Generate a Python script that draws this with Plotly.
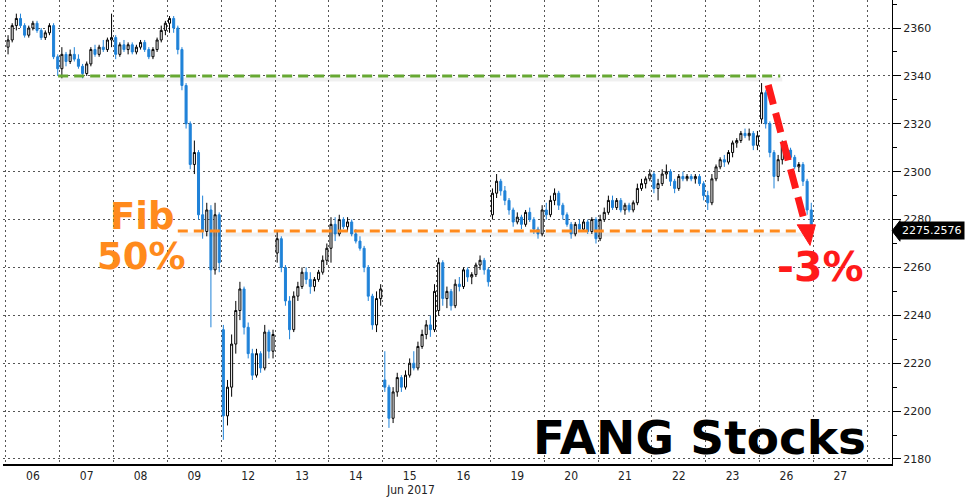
import plotly.graph_objects as go

# FANG index, intraday candles (13 bars per trading day), Jun 2017
days = ["06", "07", "08", "09", "12", "13", "14", "15", "16", "19", "20", "21", "22", "23", "26", "27"]
bars_per_day = 13

opens = [
    2352, 2355, 2361, 2364, 2361, 2357, 2360, 2362, 2359, 2356, 2358, 2361, 2348,  # 06
    2343, 2349, 2346, 2349, 2347, 2344, 2341, 2345, 2351, 2349, 2352, 2351, 2355,  # 07
    2356, 2349, 2353, 2351, 2353, 2350, 2352, 2354, 2351, 2348, 2351, 2355, 2359,  # 08
    2362, 2364, 2360, 2351, 2336, 2320, 2303, 2308, 2282, 2275, 2284, 2259, 2282,  # 09
    2234, 2198, 2210, 2228, 2242, 2251, 2235, 2224, 2215, 2224, 2218, 2233, 2225,  # 12
    2266, 2272, 2260, 2246, 2234, 2248, 2252, 2258, 2255, 2252, 2255, 2258, 2263,  # 13
    2268, 2278, 2274, 2280, 2277, 2279, 2274, 2271, 2268, 2260, 2248, 2236, 2247,  # 14
    2213, 2210, 2197, 2208, 2214, 2210, 2215, 2220, 2218, 2227, 2232, 2236, 2234,  # 15
    2242, 2262, 2247, 2250, 2244, 2253, 2252, 2259, 2256, 2257, 2261, 2263, 2259,  # 16
    2282, 2291, 2296, 2292, 2288, 2284, 2279, 2281, 2278, 2283, 2280, 2276, 2274,  # 19
    2284, 2282, 2288, 2291, 2286, 2282, 2278, 2274, 2278, 2276, 2279, 2275, 2280,  # 20
    2272, 2280, 2283, 2288, 2285, 2288, 2284, 2286, 2284, 2287, 2293, 2295, 2297,  # 21
    2299, 2293, 2295, 2299, 2300, 2296, 2293, 2298, 2297, 2298, 2297, 2298, 2295,  # 22
    2290, 2287, 2297, 2302, 2305, 2304, 2308, 2312, 2313, 2316, 2315, 2316, 2311,  # 23
    2322, 2333, 2320, 2308, 2298, 2305, 2311, 2309, 2306, 2302, 2303, 2296, 2284,  # 26
]
highs = [
    2357, 2362, 2366, 2366, 2362, 2361, 2363, 2363, 2360, 2359, 2362, 2362, 2349,
    2352, 2350, 2351, 2352, 2349, 2345, 2346, 2352, 2353, 2353, 2355, 2356, 2366,
    2357, 2354, 2355, 2354, 2354, 2353, 2355, 2355, 2352, 2352, 2356, 2361, 2363,
    2365, 2365, 2361, 2352, 2337, 2321, 2313, 2309, 2290, 2287, 2286, 2287, 2283,
    2236, 2213, 2232, 2246, 2254, 2252, 2237, 2226, 2226, 2225, 2236, 2234, 2234,
    2275, 2273, 2261, 2248, 2250, 2254, 2260, 2260, 2258, 2256, 2259, 2265, 2270,
    2281, 2281, 2282, 2281, 2281, 2280, 2276, 2273, 2269, 2261, 2249, 2250, 2253,
    2225, 2211, 2210, 2216, 2215, 2217, 2222, 2225, 2229, 2234, 2238, 2240, 2253,
    2264, 2263, 2252, 2251, 2255, 2256, 2260, 2260, 2258, 2262, 2265, 2264, 2260,
    2293, 2299, 2297, 2294, 2289, 2285, 2283, 2282, 2284, 2285, 2281, 2277, 2286,
    2287, 2290, 2293, 2292, 2287, 2283, 2279, 2279, 2280, 2280, 2280, 2281, 2281,
    2282, 2285, 2290, 2290, 2289, 2289, 2287, 2287, 2288, 2295, 2297, 2298, 2301,
    2300, 2297, 2301, 2303, 2301, 2297, 2299, 2300, 2299, 2299, 2299, 2299, 2296,
    2292, 2299, 2303, 2306, 2307, 2309, 2313, 2314, 2317, 2318, 2318, 2317, 2317,
    2337, 2334, 2321, 2309, 2307, 2313, 2312, 2310, 2307, 2304, 2304, 2297, 2287,
]
lows = [
    2349, 2354, 2359, 2360, 2356, 2356, 2359, 2358, 2355, 2355, 2357, 2347, 2340,
    2339, 2344, 2345, 2346, 2343, 2339, 2340, 2344, 2348, 2348, 2350, 2350, 2352,
    2347, 2348, 2350, 2349, 2349, 2349, 2351, 2350, 2347, 2347, 2350, 2354, 2357,
    2358, 2358, 2349, 2334, 2318, 2301, 2299, 2280, 2272, 2273, 2235, 2257, 2258,
    2188, 2194, 2206, 2224, 2238, 2232, 2222, 2213, 2214, 2216, 2217, 2222, 2222,
    2262, 2258, 2244, 2230, 2233, 2246, 2251, 2253, 2249, 2250, 2254, 2257, 2261,
    2262, 2271, 2273, 2276, 2275, 2273, 2270, 2267, 2258, 2246, 2234, 2233, 2244,
    2208, 2193, 2195, 2206, 2208, 2209, 2214, 2217, 2217, 2226, 2230, 2231, 2233,
    2240, 2244, 2243, 2242, 2243, 2250, 2251, 2254, 2253, 2256, 2259, 2257, 2252,
    2280, 2289, 2290, 2286, 2282, 2277, 2278, 2276, 2277, 2279, 2274, 2272, 2273,
    2280, 2281, 2286, 2284, 2280, 2277, 2272, 2273, 2275, 2275, 2274, 2274, 2270,
    2271, 2279, 2282, 2284, 2284, 2283, 2282, 2283, 2283, 2286, 2292, 2293, 2296,
    2291, 2288, 2294, 2297, 2294, 2291, 2292, 2296, 2296, 2296, 2295, 2294, 2288,
    2284, 2286, 2296, 2301, 2302, 2303, 2306, 2310, 2312, 2314, 2313, 2309, 2309,
    2320, 2318, 2306, 2293, 2296, 2303, 2307, 2305, 2301, 2300, 2294, 2282, 2275,
]
closes = [
    2355, 2361, 2364, 2361, 2357, 2360, 2362, 2359, 2356, 2358, 2361, 2348, 2343,
    2349, 2346, 2349, 2347, 2344, 2341, 2345, 2351, 2349, 2352, 2351, 2355, 2356,
    2349, 2353, 2351, 2353, 2350, 2352, 2354, 2351, 2348, 2351, 2355, 2359, 2362,
    2364, 2360, 2351, 2336, 2320, 2303, 2308, 2282, 2275, 2284, 2259, 2282, 2262,
    2198, 2210, 2228, 2242, 2251, 2235, 2224, 2215, 2224, 2218, 2233, 2225, 2232,
    2272, 2260, 2246, 2234, 2248, 2252, 2258, 2255, 2252, 2255, 2258, 2263, 2268,
    2278, 2274, 2280, 2277, 2279, 2274, 2271, 2268, 2260, 2248, 2236, 2247, 2251,
    2210, 2197, 2208, 2214, 2210, 2215, 2220, 2218, 2227, 2232, 2236, 2234, 2250,
    2262, 2247, 2250, 2244, 2253, 2252, 2259, 2256, 2257, 2261, 2263, 2259, 2254,
    2291, 2296, 2292, 2288, 2284, 2279, 2281, 2278, 2283, 2280, 2276, 2274, 2284,
    2282, 2288, 2291, 2286, 2282, 2278, 2274, 2278, 2276, 2279, 2275, 2280, 2272,
    2280, 2283, 2288, 2285, 2288, 2284, 2286, 2284, 2287, 2293, 2295, 2297, 2299,
    2293, 2295, 2299, 2300, 2296, 2293, 2298, 2297, 2298, 2297, 2298, 2295, 2290,
    2287, 2297, 2302, 2305, 2304, 2308, 2312, 2313, 2316, 2315, 2316, 2311, 2315,
    2333, 2320, 2308, 2298, 2305, 2311, 2309, 2306, 2302, 2303, 2296, 2284, 2275.2576,
]

resistance = 2340        # green line
fib_level = 2275.2576    # orange line, 50% retracement
last_price = closes[-1]

bars = list(range(len(closes)))
day_centres = [i * bars_per_day + (bars_per_day - 1) / 2 for i in range(len(days))]

blue = "#1f82d8"
orange = "#ff8a1c"
red = "#ff1a1a"
green = "#66a832"

fig = go.Figure()
fig.add_trace(go.Candlestick(
    x=bars, open=opens, high=highs, low=lows, close=closes,
    increasing=dict(line=dict(color="black", width=1), fillcolor="white"),
    decreasing=dict(line=dict(color=blue, width=1), fillcolor=blue),
    whiskerwidth=0, showlegend=False, hoverinfo="skip",
))

# dashed levels with a soft shadow
def level(y, x0, x1, colour):
    fig.add_shape(type="line", xref="x", yref="y", x0=x0 + 0.5, x1=x1 + 0.5, y0=y - 1.5, y1=y - 1.5,
                  line=dict(color="rgba(0,0,0,0.06)", width=4), layer="above")
    fig.add_shape(type="line", xref="x", yref="y", x0=x0, x1=x1, y0=y, y1=y,
                  line=dict(color=colour, width=3, dash="10px,6px"), layer="above")

level(resistance, 12.1, 186.5, green)
level(fib_level, 41.0, 193.5, orange)

# red dashed arrow
fig.add_shape(type="line", xref="x", yref="y", x0=183.6, y0=2336.2, x1=192.3, y1=2279.5,
              line=dict(color=red, width=7, dash="20px,9px"), layer="above")
fig.add_shape(type="path", xref="x", yref="y",
              path="M 190.6,2277.8 L 195.0,2277.8 L 193.7,2269.2 Z",
              fillcolor=red, line=dict(color=red, width=1), layer="above")

# last price tag
fig.add_shape(type="path", xref="paper", yref="y",
              path=f"M 1.0,{last_price} L 1.009,{last_price + 4.3} L 1.009,{last_price - 4.3} Z",
              fillcolor="black", line=dict(color="black", width=1))
fig.add_annotation(xref="paper", yref="y", x=1.008, y=last_price, xanchor="left", yanchor="middle",
                   text="2275.2576", showarrow=False, bgcolor="black", borderpad=2,
                   font=dict(family="DejaVu Sans", size=11, color="white"))

big = "DejaVu Sans"
fig.add_annotation(xref="paper", yref="paper", x=0.156, y=0.534, text="<b>Fib</b>", showarrow=False,
                   xanchor="center", yanchor="middle", font=dict(family=big, size=37, color=orange))
fig.add_annotation(xref="paper", yref="paper", x=0.156, y=0.448, text="<b>50%</b>", showarrow=False,
                   xanchor="center", yanchor="middle", font=dict(family=big, size=37, color=orange))
fig.add_annotation(xref="paper", yref="paper", x=0.920, y=0.425, text="<b>-3%</b>", showarrow=False,
                   xanchor="center", yanchor="middle", font=dict(family=big, size=41, color=red))
fig.add_annotation(xref="paper", yref="paper", x=0.783, y=0.058, text="<b>FANG Stocks</b>", showarrow=False,
                   xanchor="center", yanchor="middle", font=dict(family=big, size=47, color="black"))
fig.add_annotation(xref="paper", yref="paper", x=0.458, y=-0.056, text="Jun 2017", showarrow=False,
                   xanchor="center", yanchor="middle",
                   font=dict(family="DejaVu Sans Condensed", size=12, color="#222"))

fig.update_layout(
    width=965, height=504,
    margin=dict(l=3, r=73, t=0, b=40),
    plot_bgcolor="white", paper_bgcolor="white",
    showlegend=False,
)
fig.update_xaxes(
    range=[-1.22, 213.5],
    tickmode="array", tickvals=day_centres, ticktext=days,
    showgrid=False, zeroline=False, ticks="",
    showline=True, linecolor="black", linewidth=1.5,
    tickfont=dict(family="DejaVu Sans Condensed", size=12, color="#222"),
    minor=dict(tick0=-0.5, dtick=bars_per_day, showgrid=True, griddash="2px,3px",
               gridcolor="#555", gridwidth=1, ticks=""),
    rangeslider=dict(visible=False),
)
fig.update_yaxes(
    side="right", range=[2177.9, 2371.7],
    tickmode="array", tickvals=list(range(2180, 2361, 20)),
    showgrid=True, griddash="2px,3px", gridcolor="#555", gridwidth=1,
    zeroline=False, showline=True, linecolor="black", linewidth=1,
    ticks="outside", ticklen=8, tickcolor="black", tickwidth=1,
    tickfont=dict(family="DejaVu Sans", size=11, color="#222"),
    minor=dict(tick0=2170, dtick=10, ticks="outside", ticklen=4, tickcolor="black", showgrid=False),
)

# the page's default 8px body margin would push the figure off the window
fig.write_html("out.html", config={"displayModeBar": False},
               post_script="document.body.style.margin = '0';")
